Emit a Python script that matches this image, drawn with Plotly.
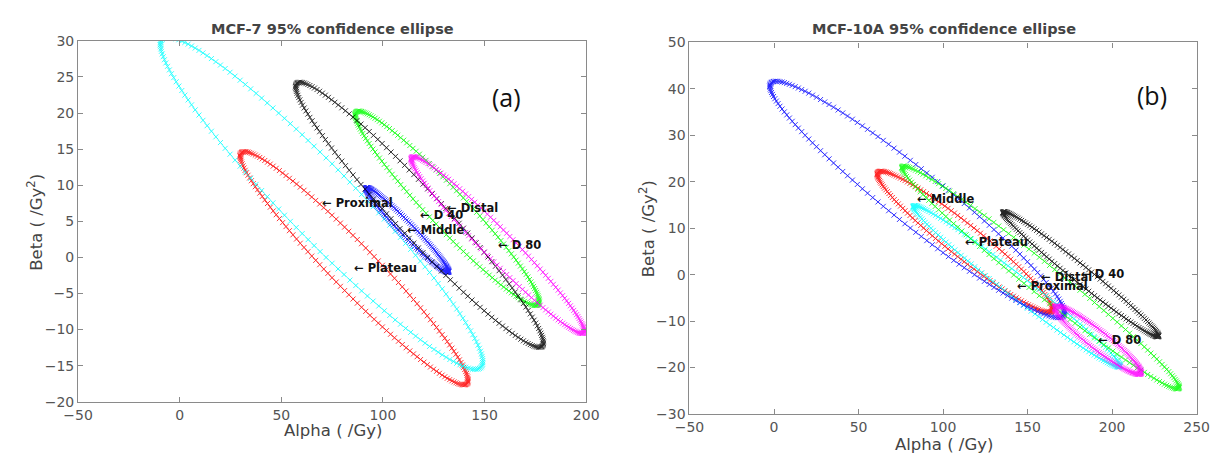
import numpy as np
import plotly.graph_objects as go

# 95% confidence ellipses of the fitted (alpha, beta) pairs for each position
groups = ["Plateau", "Proximal", "Middle", "Distal", "D 40", "D 80"]
colors = ["#ff0000", "#00ffff", "#0000ff", "#00ff00", "#000000", "#ff00ff"]

# MCF-7: mean alpha, mean beta, SD alpha, SD beta, correlation
mcf7_alpha = [85.8, 69.8, 112.0, 131.6, 118.0, 156.5]
mcf7_beta = [-1.5, 7.5, 3.8, 6.8, 5.9, 1.7]
mcf7_sd_alpha = [22.9, 32.4, 8.3, 18.5, 24.9, 17.4]
mcf7_sd_beta = [6.6, 9.4, 2.4, 5.5, 7.5, 5.0]
mcf7_rho = [-0.962, -0.954, -0.975, -0.960, -0.966, -0.972]

# MCF-10A
mcf10a_alpha = [113.0, 143.6, 84.7, 157.7, 181.5, 191.7]
mcf10a_beta = [7.1, -2.5, 16.2, -0.6, 0.1, -14.1]
mcf10a_sd_alpha = [21.2, 25.0, 35.6, 33.5, 18.8, 10.4]
mcf10a_sd_beta = [6.2, 7.1, 10.4, 9.8, 5.5, 3.0]
mcf10a_rho = [-0.956, -0.985, -0.958, -0.985, -0.985, -0.940]

CHI2_95 = 5.991  # chi-square quantile, 2 degrees of freedom
N_POINTS = 170

W, H = 1223, 459


def ellipse(cx, cy, sx, sy, rho, n=N_POINTS):
    k = np.sqrt(CHI2_95)
    t = np.linspace(np.pi, 3 * np.pi, n)
    x = cx + k * sx * np.cos(t)
    y = cy + k * sy * (rho * np.cos(t) + np.sqrt(1 - rho ** 2) * np.sin(t))
    return x, y


fig = go.Figure()

panels = [
    ("x", "y", mcf7_alpha, mcf7_beta, mcf7_sd_alpha, mcf7_sd_beta, mcf7_rho),
    ("x2", "y2", mcf10a_alpha, mcf10a_beta, mcf10a_sd_alpha, mcf10a_sd_beta, mcf10a_rho),
]

annotations = []
for xa, ya, ca, cb, sa, sb, rr in panels:
    for i, name in enumerate(groups):
        ex, ey = ellipse(ca[i], cb[i], sa[i], sb[i], rr[i])
        fig.add_trace(go.Scatter(
            x=ex, y=ey, mode="lines+markers", xaxis=xa, yaxis=ya,
            line=dict(color=colors[i], width=0.6),
            marker=dict(symbol="x-thin", size=5, line=dict(color=colors[i], width=0.9)),
            opacity=0.85, showlegend=False, hoverinfo="skip",
        ))
    for i, name in enumerate(groups):
        annotations.append(dict(
            x=ca[i], y=cb[i], xref=xa, yref=ya, text="<b>\u2190 " + name + "</b>",
            showarrow=False, xanchor="left", yanchor="middle", xshift=-2,
            font=dict(family="DejaVu Sans, sans-serif", size=11.5, color="#111111"),
        ))


def px(x):
    return x / W


def py(y):
    return 1 - y / H


# titles, axis labels and panel letters
text_items = [
    (324.6, 22, "<b>MCF-7 95% confidence ellipse</b>", 14.5, 0),
    (951, 22, "<b>MCF-10A 95% confidence ellipse</b>", 14.5, 0),
    (325, 438, "Alpha ( /Gy)", 16.5, 0),
    (951, 452, "Alpha ( /Gy)", 16.5, 0),
    (21, 222, "Beta ( /Gy<sup>2</sup>)", 16.5, -90),
    (647, 229, "Beta ( /Gy<sup>2</sup>)", 16.5, -90),
]
for x, y, t, s, ang in text_items:
    annotations.append(dict(
        x=px(x), y=py(y), xref="paper", yref="paper", text=t, showarrow=False,
        xanchor="center", yanchor="middle", textangle=ang,
        font=dict(family="DejaVu Sans, sans-serif", size=s, color="#444444"),
    ))
for x, y, t in [(503, 92, "(a)"), (1164, 90, "(b)")]:
    annotations.append(dict(
        x=px(x), y=py(y), xref="paper", yref="paper", text=t, showarrow=False,
        xanchor="center", yanchor="middle",
        font=dict(family="Open Sans, sans-serif", size=25, color="#111111"),
    ))

axis_common = dict(
    showline=True, linecolor="#8a8a8a", linewidth=1.2, mirror="ticks",
    ticks="inside", ticklen=5, tickcolor="#8a8a8a", showgrid=False, zeroline=False,
    tickfont=dict(family="DejaVu Sans, sans-serif", size=14, color="#555555"),
    fixedrange=True,
)

fig.update_layout(
    width=W, height=H, margin=dict(l=0, r=0, t=0, b=0),
    paper_bgcolor="white", plot_bgcolor="white",
    xaxis=dict(domain=[px(64.6), px(584.6)], range=[-50, 200], dtick=50,
               anchor="y", **axis_common),
    yaxis=dict(domain=[py(408), py(34)], range=[-20, 30], dtick=5,
               anchor="x", **axis_common),
    xaxis2=dict(domain=[px(690.3), px(1209.3)], range=[-50, 250], dtick=50,
                anchor="y2", **axis_common),
    yaxis2=dict(domain=[py(420.7), py(35.7)], range=[-30, 50], dtick=10,
                anchor="x2", **axis_common),
    annotations=annotations,
)

fig.write_html("out.html")
